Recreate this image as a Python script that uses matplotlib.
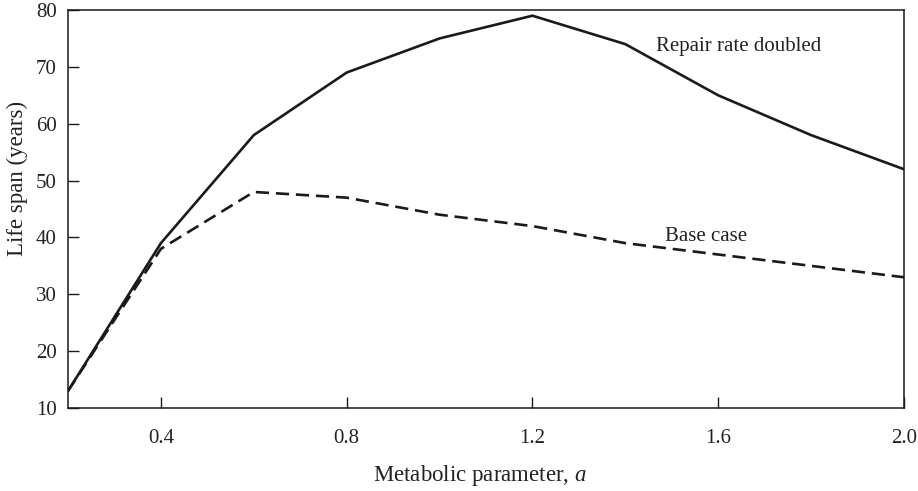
import matplotlib
matplotlib.use("Agg")
import matplotlib.pyplot as plt

x_vals = [0.2, 0.4, 0.6, 0.8, 1.0, 1.2, 1.4, 1.6, 1.8, 2.0]
repair_doubled = [13, 39, 58, 69, 75, 79, 74, 65, 58, 52]
base_case = [13, 38, 48, 47, 44, 42, 39, 37, 35, 33]
x_ticks = [0.4, 0.8, 1.2, 1.6, 2.0]
x_tick_labels = ["0.4", "0.8", "1.2", "1.6", "2.0"]
y_ticks = [10, 20, 30, 40, 50, 60, 70, 80]

plt.rcParams['font.family'] = ['Liberation Serif', 'DejaVu Serif']
plt.rcParams['mathtext.fontset'] = 'custom'
plt.rcParams['mathtext.it'] = 'Liberation Serif:italic'
plt.rcParams['mathtext.rm'] = 'Liberation Serif'

fig = plt.figure(figsize=(9.18, 4.91), dpi=100)
ax = fig.add_axes([0.0741, 0.169, 0.9106, 0.8106])

ax.plot(x_vals, repair_doubled, color='#1a1a1a', lw=1.9, solid_joinstyle='miter')
ax.plot(x_vals, base_case, color='#1a1a1a', lw=1.9, dashes=(5, 2.6))

ax.set_xlim(0.2, 2.0)
ax.set_ylim(10, 80)
ax.set_xticks(x_ticks)
ax.set_xticklabels(x_tick_labels)
ax.set_yticks(y_ticks)
ax.tick_params(axis='both', direction='in', length=8, width=1.0, colors='#1a1a1a',
               labelsize=15, labelcolor='#222222')
ax.tick_params(axis='x', pad=15)
ax.tick_params(axis='y', pad=8)
for s in ax.spines.values():
    s.set_linewidth(1.1)
    s.set_color('#1a1a1a')

ax.text(1.466, 73.5, "Repair rate doubled", fontsize=15, color='#222222', va='center', ha='left')
ax.text(1.486, 40.1, "Base case", fontsize=15, color='#222222', va='center', ha='left')

fig.text(480 / 918, 1 - 475 / 491, r"Metabolic parameter, $\it{a}$", fontsize=16.5,
         color='#222222', ha='center', va='center')
fig.text(17 / 918, 1 - 178 / 491, "Life span (years)", fontsize=16.5, color='#222222',
         ha='center', va='center', rotation=90)

fig.savefig("out.png", dpi=100)
